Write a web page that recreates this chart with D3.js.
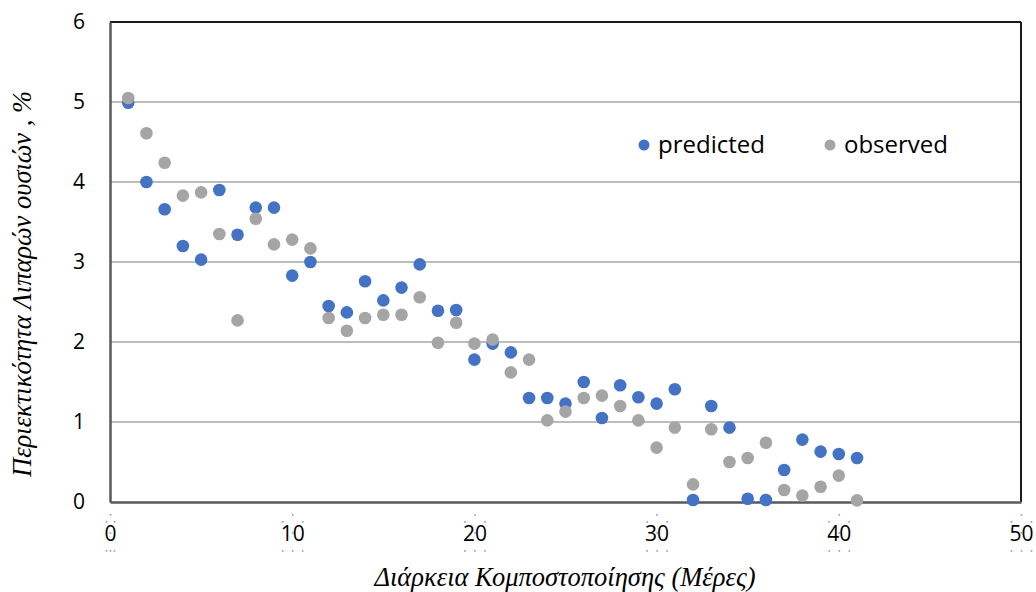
<!DOCTYPE html>
<html>
<head>
<meta charset="utf-8">
<script src="https://cdn.jsdelivr.net/npm/d3@7"></script>
<style>
  html, body { margin: 0; padding: 0; background: #fff; }
  svg { display: block; }
</style>
</head>
<body>
<svg id="chart" width="1036" height="592"></svg>
<script>
// Composting days
const days = d3.range(1, 42);

// Fat content (%) – model prediction
const predicted = [
  4.99, 4.00, 3.66, 3.20, 3.03, 3.90, 3.34, 3.68, 3.68, 2.83,
  3.00, 2.45, 2.37, 2.76, 2.52, 2.68, 2.97, 2.39, 2.40, 1.78,
  1.98, 1.87, 1.30, 1.30, 1.23, 1.50, 1.05, 1.46, 1.31, 1.23,
  1.41, 0.025, 1.20, 0.93, 0.04, 0.025, 0.40, 0.78, 0.63, 0.60,
  0.55
];

// Fat content (%) – measured
const observed = [
  5.05, 4.61, 4.24, 3.83, 3.87, 3.35, 2.27, 3.54, 3.22, 3.28,
  3.17, 2.30, 2.14, 2.30, 2.34, 2.34, 2.56, 1.99, 2.24, 1.98,
  2.03, 1.62, 1.78, 1.02, 1.13, 1.30, 1.33, 1.20, 1.02, 0.68,
  0.93, 0.22, 0.91, 0.50, 0.55, 0.74, 0.15, 0.08, 0.19, 0.33,
  0.02
];

const xTicks = [0, 10, 20, 30, 40, 50];
const yTicks = [0, 1, 2, 3, 4, 5, 6];

const seriesNames = ["predicted", "observed"];
const seriesColors = ["#4472C4", "#A5A5A5"];

const xTitle = "Διάρκεια Κομποστοποίησης (Μέρες)";
const yTitle = "Περιεκτικότητα Λιπαρών ουσιών , %";

const svg = d3.select("#chart");
const plot = { left: 110, right: 1021, top: 22, bottom: 502 };

const x = d3.scaleLinear().domain([0, 50]).range([plot.left, plot.right]);
const y = d3.scaleLinear().domain([0, 6]).range([plot.bottom, plot.top]);

const sansFont = "'Open Sans', 'Noto Sans', sans-serif";
const serifFont = "'Liberation Serif', 'DejaVu Serif', serif";

// horizontal gridlines
svg.append("g")
  .selectAll("line")
  .data(yTicks.filter(v => v > 0 && v < 6))
  .join("line")
  .attr("x1", plot.left).attr("x2", plot.right)
  .attr("y1", d => y(d)).attr("y2", d => y(d))
  .attr("stroke", "#A6A6A6").attr("stroke-width", 1.5);

// frame: top and right edges
svg.append("line")
  .attr("x1", plot.left).attr("x2", plot.right)
  .attr("y1", plot.top).attr("y2", plot.top)
  .attr("stroke", "#1a1a1a").attr("stroke-width", 2);
svg.append("line")
  .attr("x1", plot.right).attr("x2", plot.right)
  .attr("y1", plot.top).attr("y2", plot.bottom)
  .attr("stroke", "#1a1a1a").attr("stroke-width", 2);

// y axis
const yAxis = svg.append("g")
  .attr("transform", `translate(${plot.left},0)`)
  .call(d3.axisLeft(y).tickValues(yTicks).tickSize(0).tickPadding(25).tickFormat(d3.format("d")));
yAxis.select(".domain").attr("stroke", "#595959").attr("stroke-width", 2.5);
yAxis.selectAll("text")
  .attr("font-family", sansFont).attr("font-size", 21).attr("fill", "#000");

// x axis
const xAxis = svg.append("g")
  .attr("transform", `translate(0,${plot.bottom})`)
  .call(d3.axisBottom(x).tickValues(xTicks).tickSize(0).tickPadding(24).tickFormat(d3.format("d")));
xAxis.select(".domain").attr("stroke", "#595959").attr("stroke-width", 2.5);
xAxis.selectAll("text")
  .attr("font-family", sansFont).attr("font-size", 21).attr("fill", "#000");

// faint dotted selection box around each x tick label
xAxis.selectAll(".tick").each(function () {
  const t = d3.select(this);
  const b = t.select("text").node().getBBox();
  const pts = [
    [b.x + b.width / 2, b.y - 4],
    [b.x + 2, b.y + 3], [b.x + b.width - 2, b.y + 3],
    [b.x + b.width / 2, b.y + b.height / 2],
    [b.x + 2, b.y + b.height + 4], [b.x + b.width - 2, b.y + b.height + 4],
    [b.x + b.width / 2, b.y + b.height + 4]
  ];
  t.selectAll("rect.handle")
    .data(pts)
    .join("rect")
    .attr("class", "handle")
    .attr("x", p => p[0] - 0.8).attr("y", p => p[1] - 0.8)
    .attr("width", 1.6).attr("height", 1.6)
    .attr("fill", "#4472C4").attr("opacity", 0.7);
});

// markers
const series = [predicted, observed];
series.forEach((vals, i) => {
  svg.append("g")
    .selectAll("circle")
    .data(days.map((d, j) => ({ d, v: vals[j] })))
    .join("circle")
    .attr("cx", p => x(p.d))
    .attr("cy", p => y(p.v))
    .attr("r", 6.3)
    .attr("fill", seriesColors[i]);
});

// legend
const legend = svg.append("g").attr("transform", "translate(644,145)");
const legendOffsets = [0, 186];
seriesNames.forEach((name, i) => {
  const g = legend.append("g").attr("transform", `translate(${legendOffsets[i]},0)`);
  g.append("circle").attr("r", 5.5).attr("fill", seriesColors[i]);
  g.append("text")
    .attr("x", 14).attr("y", 0).attr("dy", "0.35em")
    .attr("font-family", sansFont).attr("font-size", 24).attr("fill", "#000")
    .text(name);
});

// axis titles
svg.append("text")
  .attr("x", 565).attr("y", 586)
  .attr("text-anchor", "middle")
  .attr("font-family", serifFont).attr("font-style", "italic")
  .attr("font-size", 26.5).attr("fill", "#000")
  .text(xTitle);

svg.append("text")
  .attr("transform", "translate(31,284) rotate(-90)")
  .attr("text-anchor", "middle")
  .attr("font-family", serifFont).attr("font-style", "italic")
  .attr("font-size", 26.5).attr("fill", "#000")
  .text(yTitle);
</script>
</body>
</html>
